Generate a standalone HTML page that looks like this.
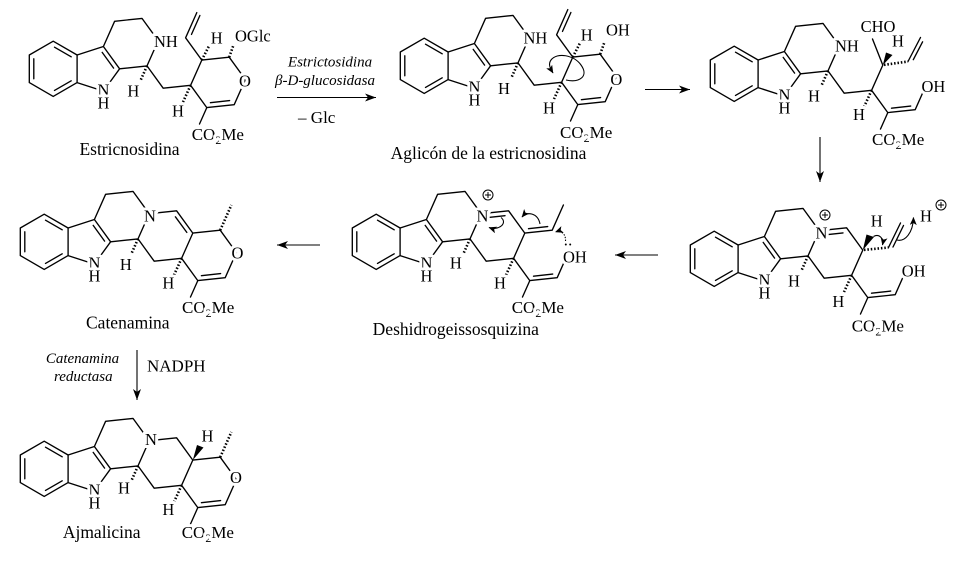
<!DOCTYPE html>
<html><head><meta charset="utf-8"><style>
html,body{margin:0;padding:0;background:#fff;}
svg{display:block;}
text{font-family:"Liberation Serif",serif;fill:#000;}
.l{font-size:16.5px;stroke:#fff;stroke-width:6;paint-order:stroke;stroke-linejoin:round;}
.c{font-size:17px;stroke:#fff;stroke-width:6;paint-order:stroke;stroke-linejoin:round;}
.t{font-size:17.5px;}
.i{font-size:15px;font-style:italic;}
.b{fill:none;stroke:#000;stroke-width:1.35;stroke-linejoin:round;stroke-linecap:round;}
.h{fill:none;stroke:#000;stroke-width:2.6;stroke-dasharray:1.5 1.9;}
.a{fill:none;stroke:#000;stroke-width:1.1;}
</style></head><body>
<svg width="960" height="562" viewBox="0 0 960 562" xmlns="http://www.w3.org/2000/svg">
<defs>
<marker id="ah" markerUnits="userSpaceOnUse" markerWidth="9" markerHeight="7" refX="7.5" refY="3.5" orient="auto">
<path d="M0,0 L8,3.5 L0,7 L2,3.5 z" fill="#000"/></marker>
<marker id="big" markerUnits="userSpaceOnUse" markerWidth="12" markerHeight="8" refX="11" refY="4" orient="auto">
<path d="M0,0 L11,4 L0,8 L3,4 z" fill="#000"/></marker>
<g id="core">
<polygon class="b" points="29.3,55 53.2,41.2 77.1,55 77.1,82.6 53.2,96.4 29.3,82.6"/>
<path class="b" d="M33.8,58.8V78.8 M54.5,47.2L71.2,56.8 M54.5,90.4L71.2,80.8 M77.1,55L103.4,46.5L119.6,68.8L103.4,91.1L77.1,82.6 M102.2,52.4L113.6,68.1 M103.4,46.5L114.6,21.3L142,18.4L158.2,40.7L147,65.9L119.6,68.8"/>
<line class="h" x1="147" y1="65.9" x2="140.5" y2="80.5"/>
</g>
</defs>

<!-- cores -->
<use href="#core"/>
<use href="#core" transform="translate(371,-3)"/>
<use href="#core" transform="translate(681,5)"/>
<use href="#core" transform="translate(661,190)"/>
<use href="#core" transform="translate(323,173)"/>
<use href="#core" transform="translate(-9,173)"/>
<use href="#core" transform="translate(-9,400)"/>

<!-- Mol 1 Estricnosidina -->
<path class="b" d="M147,65.9L163.2,88.2L190.6,85.3L201.8,60.1L229.2,57.2L245.4,79.5L234.2,104.7L206.8,107.6L190.6,85.3 M229.6,100.6L210.4,102.7 M201.8,60.1L185.6,37.8L196.8,12.6 M191.5,34.4L199.9,15.5 M206.8,107.6L199.5,124"/>
<line class="h" x1="201.8" y1="60.1" x2="209.5" y2="45"/>
<line class="h" x1="229.2" y1="57.2" x2="233.5" y2="45"/>
<line class="h" x1="190.6" y1="85.3" x2="183" y2="102"/>

<!-- Mol 2 Aglycone -->
<path class="b" d="M518,62.9L534.2,85.2L561.6,82.3L572.8,57.1L600.2,54.2L616.4,76.5L605.2,101.7L577.8,104.6L561.6,82.3 M600.6,97.6L581.4,99.7 M572.8,57.1L556.6,34.8L567.8,9.6 M562.5,31.4L570.9,12.5 M577.8,104.6L570.5,121"/>
<line class="h" x1="572.8" y1="57.1" x2="580.5" y2="42"/>
<line class="h" x1="600.2" y1="54.2" x2="604.5" y2="42"/>
<line class="h" x1="561.6" y1="82.3" x2="554" y2="99"/>
<path class="a" d="M566,80 C580,83 589,76 581,65 C574,55 557,52 551,60 C548,64 550,68 553,73" marker-end="url(#ah)"/>

<!-- Mol 3 -->
<path class="b" d="M828,70.9L844.2,93.2L871.6,90.3L882.8,65.1L872.5,39 M908,61.5L920.5,37.5 M913.3,59.7L922.6,41.8 M871.6,90.3L887.8,112.6L915.2,109.7L926.4,84.5 M891.5,108.2L910.7,106.1 M887.8,112.6L880.5,129"/>
<polygon points="882.8,65.1 886,52.5 892.5,55" fill="#000"/>
<line class="h" x1="884" y1="64.9" x2="908" y2="61.5"/>
<line class="h" x1="871.6" y1="90.3" x2="864" y2="107"/>

<!-- Mol 4 -->
<path class="b" d="M808,255.9L824.2,278.2L851.6,275.3L862.8,250.1L846.6,227.8L819.2,230.7 M827.9,234.6L843,232.9 M888.5,247.5L900.5,223 M893,247L903.5,225.5 M851.6,275.3L867.8,297.6L895.2,294.7L906.4,269.5 M871.5,293.2L890.7,291.1 M867.8,297.6L860.5,314"/>
<polygon points="862.8,250.1 866.5,234.5 874,237" fill="#000"/>
<line class="h" x1="864" y1="249.9" x2="888.5" y2="247.5"/>
<line class="h" x1="851.6" y1="275.3" x2="844" y2="292"/>
<path class="a" d="M873.5,236.5 C879,233.5 884,238 882.5,245" marker-end="url(#ah)"/>
<path class="a" d="M897,240 C905,242 913,233 913.5,217.5" marker-end="url(#ah)"/>
<circle cx="825" cy="215" r="5" fill="none" stroke="#000" stroke-width="1"/>
<path d="M822,215H828M825,212V218" stroke="#000" stroke-width="1"/>
<circle cx="941" cy="205" r="5" fill="none" stroke="#000" stroke-width="1"/>
<path d="M938,205H944M941,202V208" stroke="#000" stroke-width="1"/>

<!-- Mol 5 -->
<path class="b" d="M470,238.9L486.2,261.2L513.6,258.3L524.8,233.1L508.6,210.8L481.2,213.7 M489.9,217.3L505,215.7 M524.8,233.1L552.2,230.2L563.4,205 M528.5,228.7L547.7,226.6 M513.6,258.3L529.8,280.6L557.2,277.7L568.4,252.5 M533.5,276.2L552.7,274.1 M529.8,280.6L522.5,297"/>
<line class="h" x1="513.6" y1="258.3" x2="506" y2="275"/>
<path class="a" d="M501,217.5 C508,223 499,231 489,227.5" marker-end="url(#ah)"/>
<path class="a" d="M540,224 C538,213 527,211 522,217" marker-end="url(#ah)"/>
<path class="a" d="M565.5,241 C566,234 561,230 555.5,232" stroke-dasharray="1.4 1.4" marker-end="url(#ah)"/>
<circle cx="488" cy="195" r="5" fill="none" stroke="#000" stroke-width="1"/>
<path d="M485,195H491M488,192V198" stroke="#000" stroke-width="1"/>
<circle cx="565.8" cy="244.5" r="1" fill="#000"/>
<circle cx="570.2" cy="244.5" r="1" fill="#000"/>

<!-- Mol 6 Catenamina -->
<path class="b" d="M138,238.9L154.2,261.2L181.6,258.3L192.8,233.1L176.6,210.8L149.2,213.7 M175.4,216.8L186.8,232.4 M192.8,233.1L220.2,230.2L236.4,252.5L225.2,277.7L197.8,280.6L181.6,258.3 M220.6,273.6L201.4,275.7 M197.8,280.6L190.5,297"/>
<line class="h" x1="220.2" y1="230.2" x2="231.4" y2="205"/>
<line class="h" x1="181.6" y1="258.3" x2="174" y2="275"/>

<!-- Mol 7 Ajmalicina -->
<path class="b" d="M138,465.9L154.2,488.2L181.6,485.3L192.8,460.1L176.6,437.8L149.2,440.7 M192.8,460.1L220.2,457.2L236.4,479.5L225.2,504.7L197.8,507.6L181.6,485.3 M220.6,500.6L201.4,502.7 M197.8,507.6L190.5,524"/>
<polygon points="192.8,460.1 197,445 203.5,447.5" fill="#000"/>
<line class="h" x1="220.2" y1="457.2" x2="231.4" y2="432"/>
<line class="h" x1="181.6" y1="485.3" x2="174" y2="502"/>

<!-- reaction arrows -->
<line class="a" x1="277" y1="97.5" x2="376" y2="97.5" stroke-width="1.2" marker-end="url(#big)"/>
<line class="a" x1="645" y1="89.5" x2="690" y2="89.5" stroke-width="1.2" marker-end="url(#big)"/>
<line class="a" x1="820" y1="137" x2="820" y2="182" stroke-width="1.2" marker-end="url(#big)"/>
<line class="a" x1="658" y1="255" x2="615" y2="255" stroke-width="1.2" marker-end="url(#big)"/>
<line class="a" x1="320" y1="245" x2="277" y2="245" stroke-width="1.2" marker-end="url(#big)"/>
<line class="a" x1="137" y1="350" x2="137" y2="400" stroke-width="1.2" marker-end="url(#big)"/>

<!-- arrow texts -->
<text class="i" x="330" y="66.7" text-anchor="middle">Estrictosidina</text>
<text class="i" x="325" y="85" text-anchor="middle">β-D-glucosidasa</text>
<text x="316.7" y="123" font-size="17" text-anchor="middle">– Glc</text>
<text class="i" x="82.5" y="363" text-anchor="middle">Catenamina</text>
<text class="i" x="83.3" y="381" text-anchor="middle">reductasa</text>
<text x="147" y="371.5" font-size="17">NADPH</text>

<!-- Mol 1 labels -->
<text class="l" x="103.4" y="95.6" text-anchor="middle">N</text>
<text class="l" x="103.4" y="108.6" text-anchor="middle">H</text>
<text class="l" x="154" y="47">NH</text>
<text class="l" x="133.3" y="96.7" text-anchor="middle">H</text>
<text class="l" x="216.7" y="43.3" text-anchor="middle">H</text>
<text class="l" x="235" y="41.7">OGlc</text>
<text class="l" x="245" y="86.7" text-anchor="middle">O</text>
<text class="l" x="178" y="116.7" text-anchor="middle">H</text>
<text class="c" x="191.7" y="140">CO<tspan font-size="12" dy="4">2</tspan><tspan dy="-4">Me</tspan></text>
<text class="t" x="129.5" y="155" text-anchor="middle">Estricnosidina</text>

<!-- Mol 2 labels -->
<text class="l" x="474.4" y="92.6" text-anchor="middle">N</text>
<text class="l" x="474.4" y="105.6" text-anchor="middle">H</text>
<text class="l" x="523.5" y="43.3">NH</text>
<text class="l" x="504" y="94" text-anchor="middle">H</text>
<text class="l" x="586.7" y="40.5" text-anchor="middle">H</text>
<text class="l" x="606" y="35.5">OH</text>
<text class="l" x="616.3" y="85" text-anchor="middle">O</text>
<text class="l" x="549" y="113.5" text-anchor="middle">H</text>
<text class="c" x="560" y="138">CO<tspan font-size="12" dy="4">2</tspan><tspan dy="-4">Me</tspan></text>
<text class="t" x="488.5" y="159" text-anchor="middle">Aglicón de la estricnosidina</text>

<!-- Mol 3 labels -->
<text class="l" x="784.4" y="100.6" text-anchor="middle">N</text>
<text class="l" x="784.4" y="113.6" text-anchor="middle">H</text>
<text class="l" x="835" y="51.7">NH</text>
<text class="l" x="814" y="101.7" text-anchor="middle">H</text>
<text class="l" x="878" y="32" text-anchor="middle">CHO</text>
<text class="l" x="898" y="46.7" text-anchor="middle">H</text>
<text class="l" x="921.5" y="92">OH</text>
<text class="l" x="859" y="120" text-anchor="middle">H</text>
<text class="c" x="872" y="145">CO<tspan font-size="12" dy="4">2</tspan><tspan dy="-4">Me</tspan></text>

<!-- Mol 4 labels -->
<text class="l" x="764.4" y="285.6" text-anchor="middle">N</text>
<text class="l" x="764.4" y="298.6" text-anchor="middle">H</text>
<text class="l" x="794" y="286.7" text-anchor="middle">H</text>
<text class="l" x="821.5" y="238.3" text-anchor="middle">N</text>
<text class="l" x="876.7" y="226.7" text-anchor="middle">H</text>
<text class="l" x="926" y="221.7" text-anchor="middle">H</text>
<text class="l" x="901.7" y="276.7">OH</text>
<text class="l" x="838.3" y="307" text-anchor="middle">H</text>
<text class="c" x="851.7" y="331.5">CO<tspan font-size="12" dy="4">2</tspan><tspan dy="-4">Me</tspan></text>

<!-- Mol 5 labels -->
<text class="l" x="426.4" y="268.6" text-anchor="middle">N</text>
<text class="l" x="426.4" y="281.6" text-anchor="middle">H</text>
<text class="l" x="455.8" y="268.3" text-anchor="middle">H</text>
<text class="l" x="482.5" y="221.7" text-anchor="middle">N</text>
<text class="l" x="563" y="262.5">OH</text>
<text class="l" x="500" y="288.5" text-anchor="middle">H</text>
<text class="c" x="511.7" y="313">CO<tspan font-size="12" dy="4">2</tspan><tspan dy="-4">Me</tspan></text>
<text class="t" x="455.8" y="335" text-anchor="middle">Deshidrogeissosquizina</text>

<!-- Mol 6 labels -->
<text class="l" x="94.4" y="268.6" text-anchor="middle">N</text>
<text class="l" x="94.4" y="281.6" text-anchor="middle">H</text>
<text class="l" x="125.8" y="270" text-anchor="middle">H</text>
<text class="l" x="150" y="221.7" text-anchor="middle">N</text>
<text class="l" x="237.5" y="258.3" text-anchor="middle">O</text>
<text class="l" x="168.3" y="288.3" text-anchor="middle">H</text>
<text class="c" x="182" y="313">CO<tspan font-size="12" dy="4">2</tspan><tspan dy="-4">Me</tspan></text>
<text class="t" x="127.8" y="328.5" text-anchor="middle">Catenamina</text>

<!-- Mol 7 labels -->
<text class="l" x="94.4" y="495.6" text-anchor="middle">N</text>
<text class="l" x="94.4" y="508.6" text-anchor="middle">H</text>
<text class="l" x="124" y="493.3" text-anchor="middle">H</text>
<text class="l" x="151" y="445" text-anchor="middle">N</text>
<text class="l" x="207.5" y="441.7" text-anchor="middle">H</text>
<text class="l" x="236" y="483" text-anchor="middle">O</text>
<text class="l" x="168.3" y="515" text-anchor="middle">H</text>
<text class="c" x="181.7" y="538">CO<tspan font-size="12" dy="4">2</tspan><tspan dy="-4">Me</tspan></text>
<text class="t" x="101.7" y="538" text-anchor="middle">Ajmalicina</text>
</svg>
</body></html>
